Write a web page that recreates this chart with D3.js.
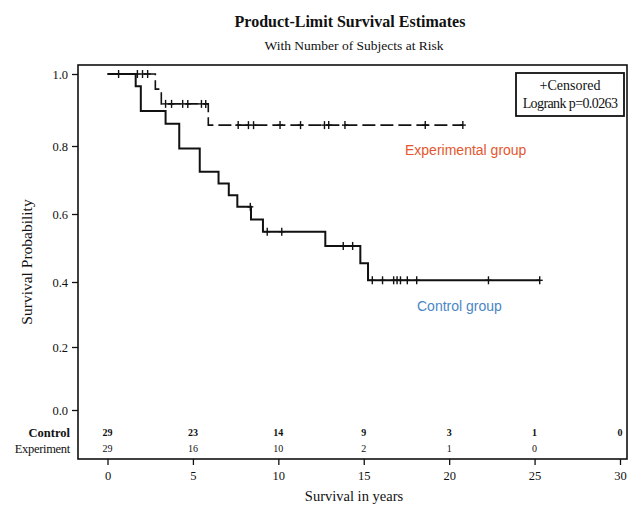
<!DOCTYPE html>
<html>
<head>
<meta charset="utf-8">
<script src="https://cdn.jsdelivr.net/npm/d3@7"></script>
<style>
  html, body { margin: 0; padding: 0; background: #fff; }
  svg { display: block; }
  text { font-family: "Liberation Serif", "DejaVu Serif", serif; fill: #111; }
</style>
</head>
<body>
<svg id="chart" width="630" height="507"></svg>
<script>
// Kaplan-Meier step data (time in years, survival probability)
const controlTimes   = [0, 1.65, 1.95, 3.4, 4.2, 5.4, 6.5, 7.1, 7.6, 8.4, 9.1, 12.75, 14.8, 15.25];
const controlSurv    = [1, 0.966, 0.897, 0.862, 0.793, 0.724, 0.690, 0.655, 0.621, 0.584, 0.548, 0.506, 0.455, 0.405];
const controlEnd     = 25.3;
const controlCensor  = [8.36, 9.35, 10.2, 13.8, 14.35, 15.5, 16.1, 16.75, 16.95, 17.15, 17.55, 18.1, 22.3, 25.3];

const experTimes     = [0, 2.8, 3.15, 5.9];
const experSurv      = [1, 0.958, 0.917, 0.858];
const experEnd       = 20.8;
const experCensor    = [0.65, 1.75, 2.05, 2.35, 3.4, 3.75, 4.4, 4.7, 5.5, 5.75,
                        7.65, 8.25, 8.55, 10.1, 11.3, 12.7, 12.95, 13.9, 18.6, 20.8];

// Number at risk table
const riskTicks      = [0, 5, 10, 15, 20, 25, 30];
const riskControl    = ["29", "23", "14", "9", "3", "1", "0"];
const riskExper      = ["29", "16", "10", "2", "1", "0"];

const xTicks = [0, 5, 10, 15, 20, 25, 30];
const yTicks = [0, 0.2, 0.4, 0.6, 0.8, 1.0];

const svg = d3.select("#chart");

const frame = { left: 78, right: 627, top: 65, bottom: 459 };
const x = d3.scaleLinear().domain([0, 30]).range([107.5, 620]);
const y = d3.scaleLinear().domain(yTicks).range([410, 347, 282, 214, 146, 74]);

// Titles
svg.append("text").attr("x", 350).attr("y", 27).attr("text-anchor", "middle")
  .style("font-size", "16px").style("font-weight", "bold")
  .text("Product-Limit Survival Estimates");
svg.append("text").attr("x", 354).attr("y", 50).attr("text-anchor", "middle")
  .style("font-size", "13.5px")
  .text("With Number of Subjects at Risk");

// Frame
svg.append("rect")
  .attr("x", frame.left).attr("y", frame.top)
  .attr("width", frame.right - frame.left).attr("height", frame.bottom - frame.top)
  .attr("fill", "none").attr("stroke", "#111").attr("stroke-width", 1.6);

// Y axis
const yAxis = svg.append("g").attr("transform", `translate(${frame.left},0)`)
  .call(d3.axisLeft(y).tickValues(yTicks).tickFormat(d3.format(".1f")).tickSize(6).tickSizeOuter(0));
yAxis.select(".domain").remove();
yAxis.selectAll(".tick line").attr("stroke", "#111").attr("stroke-width", 1.3);
yAxis.selectAll(".tick text").attr("x", -10)
  .style("font-family", "'Liberation Serif', serif").style("font-size", "12.5px").attr("fill", "#111");

// X axis
const xAxis = svg.append("g").attr("transform", `translate(0,${frame.bottom})`)
  .call(d3.axisBottom(x).tickValues(xTicks).tickSize(6).tickSizeOuter(0));
xAxis.select(".domain").remove();
xAxis.selectAll(".tick line").attr("stroke", "#111").attr("stroke-width", 1.3);
xAxis.selectAll(".tick text").attr("y", 12)
  .style("font-family", "'Liberation Serif', serif").style("font-size", "12.5px").attr("fill", "#111");

// Axis titles
svg.append("text").attr("transform", "translate(32,262) rotate(-90)")
  .attr("text-anchor", "middle").style("font-size", "15.5px").text("Survival Probability");
svg.append("text").attr("x", 354).attr("y", 501).attr("text-anchor", "middle")
  .style("font-size", "14.5px").text("Survival in years");

// Step curves
function stepPoints(times, surv, end) {
  const pts = times.map((t, i) => [t, surv[i]]);
  pts.push([end, surv[surv.length - 1]]);
  return pts;
}
function survAt(times, surv, t) {
  let v = surv[0];
  for (let i = 0; i < times.length; i++) if (times[i] <= t) v = surv[i];
  return v;
}
const line = d3.line().x(d => x(d[0])).y(d => y(d[1])).curve(d3.curveStepAfter);

svg.append("path")
  .datum(stepPoints(experTimes, experSurv, experEnd))
  .attr("d", line).attr("fill", "none").attr("stroke", "#111")
  .attr("stroke-width", 1.6).attr("stroke-dasharray", "13,5");

svg.append("path")
  .datum(stepPoints(controlTimes, controlSurv, controlEnd))
  .attr("d", line).attr("fill", "none").attr("stroke", "#111")
  .attr("stroke-width", 2);

// Censor marks
function censorMarks(times, surv, list) {
  const g = svg.append("g").attr("stroke", "#111").attr("stroke-width", 1.4);
  list.forEach(t => {
    const cx = x(t), cy = y(survAt(times, surv, t));
    g.append("line").attr("x1", cx).attr("x2", cx).attr("y1", cy - 4).attr("y2", cy + 4);
    g.append("line").attr("x1", cx - 3).attr("x2", cx + 3).attr("y1", cy).attr("y2", cy);
  });
}
censorMarks(experTimes, experSurv, experCensor);
censorMarks(controlTimes, controlSurv, controlCensor);

// Legend box
svg.append("rect").attr("x", 516).attr("y", 73).attr("width", 108).attr("height", 43)
  .attr("fill", "#fff").attr("stroke", "#111").attr("stroke-width", 1.8);
svg.append("text").attr("x", 570).attr("y", 90).attr("text-anchor", "middle")
  .style("font-size", "14px").text("+Censored");
svg.append("text").attr("x", 570).attr("y", 108).attr("text-anchor", "middle")
  .style("font-size", "14px").style("letter-spacing", "-0.6px").text("Logrank p=0.0263");

// Group labels
svg.append("text").attr("x", 405).attr("y", 155)
  .style("font-family", "'Liberation Sans', Arial, sans-serif").style("font-size", "14px")
  .style("fill", "#e4572e").text("Experimental group");
svg.append("text").attr("x", 417).attr("y", 311)
  .style("font-family", "'Liberation Sans', Arial, sans-serif").style("font-size", "14px")
  .style("fill", "#4a86c6").text("Control group");

// Number at risk rows
svg.append("text").attr("x", 70).attr("y", 437).attr("text-anchor", "end")
  .style("font-size", "12.5px").style("font-weight", "bold").text("Control");
svg.append("text").attr("x", 70).attr("y", 453).attr("text-anchor", "end")
  .style("font-size", "12.5px").style("letter-spacing", "-0.3px").text("Experiment");

svg.append("g").selectAll("text").data(riskControl).join("text")
  .attr("x", (d, i) => x(riskTicks[i])).attr("y", 436).attr("text-anchor", "middle")
  .style("font-size", "10px").style("font-weight", "bold").text(d => d);
svg.append("g").selectAll("text").data(riskExper).join("text")
  .attr("x", (d, i) => x(riskTicks[i])).attr("y", 452).attr("text-anchor", "middle")
  .style("font-size", "10px").text(d => d);
</script>
</body>
</html>
